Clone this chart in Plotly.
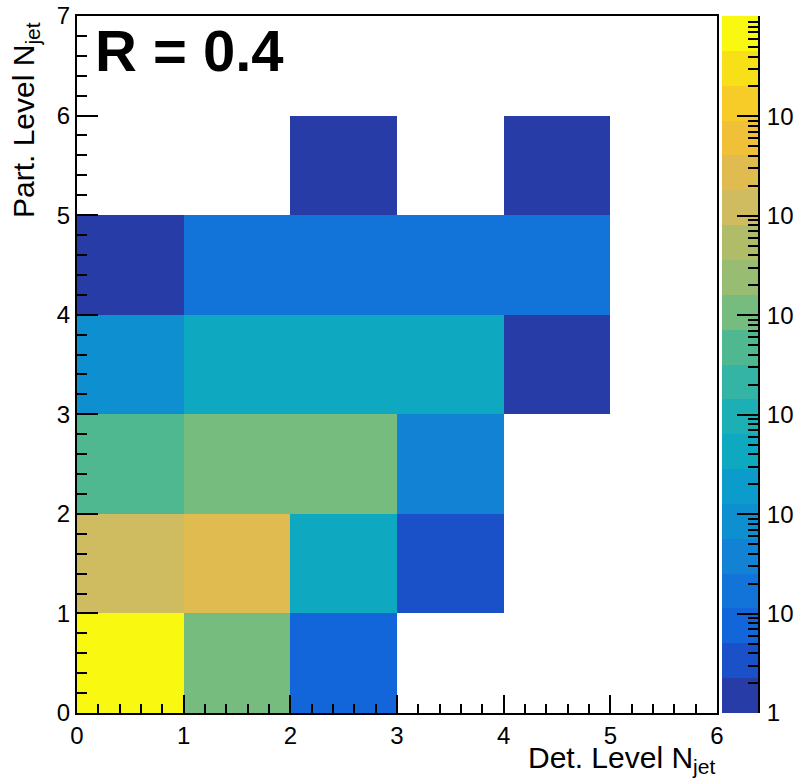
import numpy as np
import plotly.graph_objects as go

# ---- data ----
det_bins = [0.5, 1.5, 2.5, 3.5, 4.5, 5.5]          # Det. Level N_jet bin centres
part_bins = [0.5, 1.5, 2.5, 3.5, 4.5, 5.5, 6.5]    # Part. Level N_jet bin centres
# counts[part][det]
row_part0 = [8e6, 1.1e4, 8, 0, 0, 0]
row_part1 = [1.2e5, 3e5, 400, 3, 0, 0]
row_part2 = [5000, 1.1e4, 1.1e4, 40, 0, 0]
row_part3 = [80, 400, 400, 400, 1, 0]
row_part4 = [1, 16, 16, 16, 16, 0]
row_part5 = [0, 0, 1, 0, 1, 0]
row_part6 = [0, 0, 0, 0, 0, 0]
counts = [row_part0, row_part1, row_part2, row_part3, row_part4, row_part5, row_part6]

z_max_log = 7.01   # colour axis upper edge (log10)
n_levels = 20
cbar_major_vals = [0, 1, 2, 3, 4, 5, 6]
cbar_major_text = ["1", "10", "10", "10", "10", "10", "10"]

band_colors = [
    "#283ca8", "#1a50c8", "#1266da", "#1274d8", "#1182d4",
    "#0e90d0", "#0c9ccc", "#0ea8c0", "#1cb0b4", "#34b4a4",
    "#50b890", "#76bc7e", "#98bc72", "#b0bc68", "#d0bc60",
    "#e0bc50", "#f0c038", "#f8cc28", "#f8e018", "#f8f810",
]

# discrete colourscale
cs = []
for i, c in enumerate(band_colors):
    cs.append([i / n_levels, c])
    cs.append([(i + 1) / n_levels, c])

logz = [[(np.log10(v) if v > 0 else None) for v in row] for row in counts]

FONT = "Liberation Sans, Arial, Helvetica, sans-serif"

fig = go.Figure()
fig.add_trace(go.Heatmap(
    x=det_bins, y=part_bins, z=logz,
    zmin=0, zmax=z_max_log, colorscale=cs, showscale=False,
    hoverongaps=False, xaxis="x", yaxis="y",
))

# manual colour bar (palette axis)
edges = np.linspace(0, z_max_log, n_levels + 1)
mids = [[(edges[i] + edges[i + 1]) / 2] for i in range(n_levels)]
fig.add_trace(go.Heatmap(
    x=[0, 1], y=edges, z=mids, zmin=0, zmax=z_max_log, colorscale=cs,
    showscale=False, xaxis="x2", yaxis="y2",
))

minor_vals = []
for n in range(0, 8):
    for k in range(2, 10):
        v = np.log10(k * 10 ** n)
        if v < z_max_log:
            minor_vals.append(v)

W, H = 796, 782
# page-pixel frame: left 77, right 717, top 16, bottom 713
L, T, R = 77, 16, 0
B = H - 713
pw = W - L - R
ph = H - T - B

def px(X):
    return (X - L) / pw

def py(Y):
    return (H - B - Y) / ph

axis_common = dict(showgrid=False, zeroline=False, showline=True, linecolor="black",
                   linewidth=2, ticks="inside", tickcolor="black", tickwidth=2,
                   mirror=True, automargin=False, ticklabeloverflow="allow",
                   tickfont=dict(family=FONT, size=24, color="black"))

fig.update_layout(
    width=W, height=H,
    margin=dict(l=L, r=R, t=T, b=B),
    paper_bgcolor="white", plot_bgcolor="white",
    showlegend=False,
    xaxis=dict(domain=[0, px(717)], range=[0, 6], tickmode="linear", tick0=0, dtick=1,
               ticklen=18, minor=dict(dtick=0.2, tick0=0, ticks="inside", ticklen=9,
                                      tickwidth=2, tickcolor="black"),
               anchor="y", **axis_common),
    yaxis=dict(domain=[0, 1], range=[0, 7], tickmode="linear", tick0=0, dtick=1,
               ticklen=21, minor=dict(dtick=0.2, tick0=0, ticks="inside", ticklen=10,
                                      tickwidth=2, tickcolor="black"),
               anchor="x", **axis_common),
    xaxis2=dict(domain=[px(722), px(758)], range=[0, 1], visible=False, anchor="y2",
                automargin=False),
    yaxis2=dict(domain=[0, 1], range=[0, z_max_log], anchor="x2", side="right",
                automargin=False, ticklabeloverflow="allow",
                showgrid=False, zeroline=False, showline=True, linecolor="black", linewidth=2,
                tickmode="array", tickvals=cbar_major_vals, ticktext=cbar_major_text,
                ticks="inside", ticklen=21, tickwidth=2, tickcolor="black",
                ticklabelstandoff=2,
                tickfont=dict(family=FONT, size=24, color="black"),
                minor=dict(tickmode="array", tickvals=minor_vals, ticks="inside",
                           ticklen=10, tickwidth=2, tickcolor="black")),
)

fig.add_annotation(xref="paper", yref="paper", x=px(717), y=py(739),
                   xanchor="right", yanchor="top", showarrow=False,
                   text="Det. Level N<sub>jet</sub>",
                   font=dict(family=FONT, size=30, color="black"))
fig.add_annotation(xref="paper", yref="paper", x=px(25), y=py(20),
                   xanchor="center", yanchor="top", showarrow=False, textangle=-90,
                   text="Part. Level N<sub>jet</sub>",
                   font=dict(family=FONT, size=30, color="black"))
fig.add_annotation(xref="paper", yref="paper", x=px(93), y=py(51),
                   xanchor="left", yanchor="middle", showarrow=False,
                   text="<b>R = 0.4</b>",
                   font=dict(family=FONT, size=58, color="black"))

fig.write_html("out.html", config={"displayModeBar": False},
               post_script="document.body.style.margin='0px';")
